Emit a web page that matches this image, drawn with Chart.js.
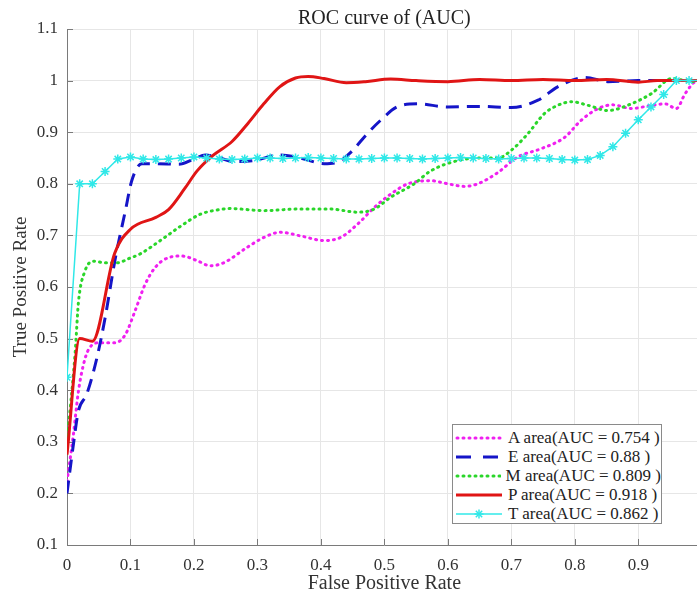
<!DOCTYPE html>
<html>
<head>
<meta charset="utf-8">
<script src="https://cdn.jsdelivr.net/npm/chart.js@4.4.1/dist/chart.umd.min.js"></script>
<style>
  body { margin: 0; overflow: hidden; background: #fff; }
  #wrap { position: relative; width: 716px; height: 596px; }
  #legend {
    position: absolute; left: 452px; top: 424px; width: 210px; height: 100px;
    border: 1px solid #8a8a8a; background: #fff; box-sizing: border-box;
    font-family: 'Liberation Serif', serif; font-size: 17px; color: #222;
    padding-top: 3px;
  }
  #legend .row { display: flex; align-items: center; height: 19px; white-space: nowrap; }
  #legend svg { margin-left: 2px; margin-right: 5px; }
</style>
</head>
<body>
<div id="wrap">
  <canvas id="roc" width="716" height="596"></canvas>
  <div id="legend"></div>
</div>
<script>
const xTicks = [0, 0.1, 0.2, 0.3, 0.4, 0.5, 0.6, 0.7, 0.8, 0.9, 1];
const yTicks = [0.1, 0.2, 0.3, 0.4, 0.5, 0.6, 0.7, 0.8, 0.9, 1, 1.1];

const names = ['A', 'E', 'M', 'P', 'T'];
const aucs = ['0.754', '0.88', '0.809', '0.918', '0.862'];

const aX = [0, 0.01, 0.018, 0.026, 0.034, 0.052, 0.076, 0.092, 0.107, 0.123, 0.139, 0.16, 0.181, 0.205, 0.226, 0.247, 0.284, 0.31, 0.336, 0.368, 0.405, 0.431, 0.458, 0.484, 0.51, 0.537, 0.573, 0.6, 0.626, 0.647, 0.679, 0.71, 0.747, 0.784, 0.81, 0.837, 0.86, 0.889, 0.921, 0.942, 0.96, 0.974, 0.99, 1];
const aY = [0.223, 0.313, 0.398, 0.45, 0.479, 0.492, 0.492, 0.508, 0.553, 0.605, 0.638, 0.657, 0.66, 0.651, 0.641, 0.647, 0.677, 0.696, 0.706, 0.699, 0.69, 0.696, 0.722, 0.754, 0.78, 0.8, 0.806, 0.8, 0.795, 0.8, 0.822, 0.852, 0.868, 0.89, 0.923, 0.946, 0.953, 0.946, 0.952, 0.955, 0.946, 0.975, 0.998, 1];

const eX = [0, 0.01, 0.018, 0.031, 0.047, 0.06, 0.076, 0.092, 0.102, 0.118, 0.14, 0.176, 0.2, 0.218, 0.24, 0.265, 0.294, 0.336, 0.368, 0.405, 0.426, 0.447, 0.473, 0.494, 0.52, 0.552, 0.6, 0.65, 0.7, 0.742, 0.773, 0.816, 0.852, 0.9, 0.95, 1];
const eY = [0.2, 0.294, 0.36, 0.392, 0.462, 0.54, 0.655, 0.748, 0.806, 0.839, 0.839, 0.838, 0.848, 0.856, 0.85, 0.843, 0.845, 0.856, 0.85, 0.839, 0.842, 0.861, 0.897, 0.923, 0.949, 0.955, 0.949, 0.95, 0.948, 0.962, 0.988, 1.006, 0.998, 1, 1, 1];

const mX = [0, 0.013, 0.018, 0.028, 0.042, 0.06, 0.08, 0.097, 0.115, 0.147, 0.178, 0.21, 0.231, 0.258, 0.31, 0.363, 0.415, 0.458, 0.484, 0.51, 0.547, 0.573, 0.616, 0.65, 0.679, 0.7, 0.726, 0.752, 0.773, 0.795, 0.821, 0.852, 0.889, 0.921, 0.953, 0.984, 1];
const mY = [0.3, 0.475, 0.57, 0.63, 0.65, 0.647, 0.647, 0.655, 0.664, 0.69, 0.717, 0.741, 0.748, 0.752, 0.748, 0.751, 0.751, 0.745, 0.751, 0.774, 0.8, 0.825, 0.845, 0.85, 0.85, 0.865, 0.897, 0.936, 0.952, 0.959, 0.952, 0.942, 0.955, 0.975, 1.004, 0.998, 1];

const pX = [0, 0.02, 0.04, 0.075, 0.1, 0.14, 0.16, 0.185, 0.205, 0.23, 0.26, 0.285, 0.31, 0.335, 0.36, 0.38, 0.405, 0.44, 0.47, 0.51, 0.55, 0.6, 0.65, 0.7, 0.75, 0.8, 0.85, 0.9, 0.93, 1];
const pY = [0.275, 0.5, 0.495, 0.665, 0.712, 0.735, 0.75, 0.79, 0.825, 0.855, 0.882, 0.917, 0.955, 0.988, 1.005, 1.008, 1.004, 0.996, 0.998, 1.003, 1, 0.998, 1.002, 1, 1.002, 1, 1.002, 0.997, 1, 1];

const tX = [0, 0.02, 0.04, 0.06, 0.08, 0.1, 0.12, 0.14, 0.16, 0.18, 0.2, 0.22, 0.24, 0.26, 0.28, 0.3, 0.32, 0.34, 0.36, 0.38, 0.4, 0.42, 0.44, 0.46, 0.48, 0.5, 0.52, 0.54, 0.56, 0.58, 0.6, 0.62, 0.64, 0.66, 0.68, 0.7, 0.72, 0.74, 0.76, 0.78, 0.8, 0.82, 0.84, 0.86, 0.88, 0.9, 0.92, 0.94, 0.96, 0.98, 1];
const tY = [0.425, 0.8, 0.8, 0.824, 0.848, 0.852, 0.848, 0.847, 0.848, 0.85, 0.852, 0.85, 0.848, 0.847, 0.848, 0.85, 0.85, 0.849, 0.85, 0.851, 0.85, 0.849, 0.848, 0.848, 0.849, 0.85, 0.85, 0.849, 0.848, 0.849, 0.85, 0.851, 0.85, 0.849, 0.848, 0.849, 0.85, 0.85, 0.849, 0.847, 0.846, 0.847, 0.855, 0.872, 0.898, 0.924, 0.949, 0.973, 1, 1, 1];

const pts = (xs, ys) => xs.map((x, i) => ({ x: x, y: ys[i] }));

const colors = ['#f020f0', '#1515c8', '#2ad62a', '#e01515', '#30e8e8'];
const serif = 'Liberation Serif';

// inward tick marks like matlab
const innerTicks = {
    id: 'innerTicks',
    beforeDatasetsDraw(chart) {
        const { ctx, chartArea, scales } = chart;
        ctx.save();
        ctx.strokeStyle = '#7a7a7a';
        ctx.lineWidth = 1;
        scales.x.ticks.forEach(t => {
            const px = Math.round(scales.x.getPixelForValue(t.value)) + 0.5;
            ctx.beginPath();
            ctx.moveTo(px, chartArea.bottom);
            ctx.lineTo(px, chartArea.bottom - 6);
            ctx.stroke();
        });
        scales.y.ticks.forEach(t => {
            const py = Math.round(scales.y.getPixelForValue(t.value)) + 0.5;
            ctx.beginPath();
            ctx.moveTo(chartArea.left, py);
            ctx.lineTo(chartArea.left + 6, py);
            ctx.stroke();
        });
        ctx.restore();
    }
};

const rocChart = new Chart(document.getElementById('roc'), {
    type: 'line',
    data: {
        datasets: [
            {
                label: names[0], data: pts(aX, aY), borderColor: colors[0], borderWidth: 3,
                borderDash: [1, 5], borderCapStyle: 'round', cubicInterpolationMode: 'monotone',
                pointRadius: 0, order: 5
            },
            {
                label: names[1], data: pts(eX, eY), borderColor: colors[1], borderWidth: 3,
                borderDash: [13, 8], cubicInterpolationMode: 'monotone',
                pointRadius: 0, order: 4
            },
            {
                label: names[2], data: pts(mX, mY), borderColor: colors[2], borderWidth: 3,
                borderDash: [1, 5], borderCapStyle: 'round', cubicInterpolationMode: 'monotone',
                pointRadius: 0, order: 3
            },
            {
                label: names[3], data: pts(pX, pY), borderColor: colors[3], borderWidth: 3,
                cubicInterpolationMode: 'monotone', pointRadius: 0, order: 2
            },
            {
                label: names[4], data: pts(tX, tY), borderColor: colors[4], borderWidth: 1.5,
                tension: 0, pointStyle: 'star', pointRadius: 4.5, pointBorderWidth: 1.5,
                pointBorderColor: colors[4], pointBackgroundColor: colors[4], order: 1
            }
        ]
    },
    options: {
        responsive: false,
        animation: false,
        devicePixelRatio: 1,
        layout: { padding: { left: 0, right: 0, top: 0, bottom: 0 } },
        scales: {
            x: {
                type: 'linear', min: 0, max: 1,
                afterBuildTicks: s => { s.ticks = xTicks.map(v => ({ value: v })); },
                afterFit: s => { s.height = 51; },
                grid: { color: '#e6e6e6', drawTicks: false },
                border: { color: '#7a7a7a' },
                ticks: {
                    padding: 10, color: '#333',
                    font: { family: serif, size: 17 },
                    callback: v => String(v)
                },
                title: {
                    display: true, text: 'False Positive Rate', color: '#333',
                    font: { family: serif, size: 20 }, padding: { top: 0, bottom: 0 }
                }
            },
            y: {
                type: 'linear', min: 0.1, max: 1.1,
                afterBuildTicks: s => { s.ticks = yTicks.map(v => ({ value: v })); },
                afterFit: s => { s.width = 67; },
                grid: { color: '#e6e6e6', drawTicks: false },
                border: { color: '#7a7a7a' },
                ticks: {
                    padding: 9, color: '#333',
                    font: { family: serif, size: 17 },
                    callback: v => String(v)
                },
                title: {
                    display: true, text: 'True Positive Rate', color: '#333',
                    font: { family: serif, size: 19 }, padding: { top: 10, bottom: 0 }
                }
            }
        },
        plugins: {
            legend: { display: false },
            tooltip: { enabled: false },
            title: {
                display: true, fullSize: false, text: 'ROC curve of (AUC)', color: '#222',
                font: { family: serif, size: 20, weight: 'normal', lineHeight: 1 },
                padding: { top: 9, bottom: 0 }
            }
        }
    },
    plugins: [innerTicks]
});

// legend box inside the plot
const samples = [
    '<line x1="2" y1="6" x2="46" y2="6" stroke="' + colors[0] + '" stroke-width="3" stroke-dasharray="1 5" stroke-linecap="round"/>',
    '<line x1="1" y1="6" x2="47" y2="6" stroke="' + colors[1] + '" stroke-width="3" stroke-dasharray="15 12"/>',
    '<line x1="2" y1="6" x2="46" y2="6" stroke="' + colors[2] + '" stroke-width="3" stroke-dasharray="1 5" stroke-linecap="round"/>',
    '<line x1="1" y1="6" x2="47" y2="6" stroke="' + colors[3] + '" stroke-width="3"/>',
    '<line x1="1" y1="6" x2="47" y2="6" stroke="' + colors[4] + '" stroke-width="1.5"/>' +
    '<g stroke="' + colors[4] + '" stroke-width="1.5"><line x1="24" y1="1.5" x2="24" y2="10.5"/><line x1="19.5" y1="6" x2="28.5" y2="6"/>' +
    '<line x1="20.8" y1="2.8" x2="27.2" y2="9.2"/><line x1="20.8" y1="9.2" x2="27.2" y2="2.8"/></g>'
];
const legendBox = document.getElementById('legend');
names.forEach((n, i) => {
    const row = document.createElement('div');
    row.className = 'row';
    row.innerHTML = '<svg width="48" height="12">' + samples[i] + '</svg><span>' + n + ' area(AUC = ' + aucs[i] + ' )</span>';
    legendBox.appendChild(row);
});
</script>
</body>
</html>
